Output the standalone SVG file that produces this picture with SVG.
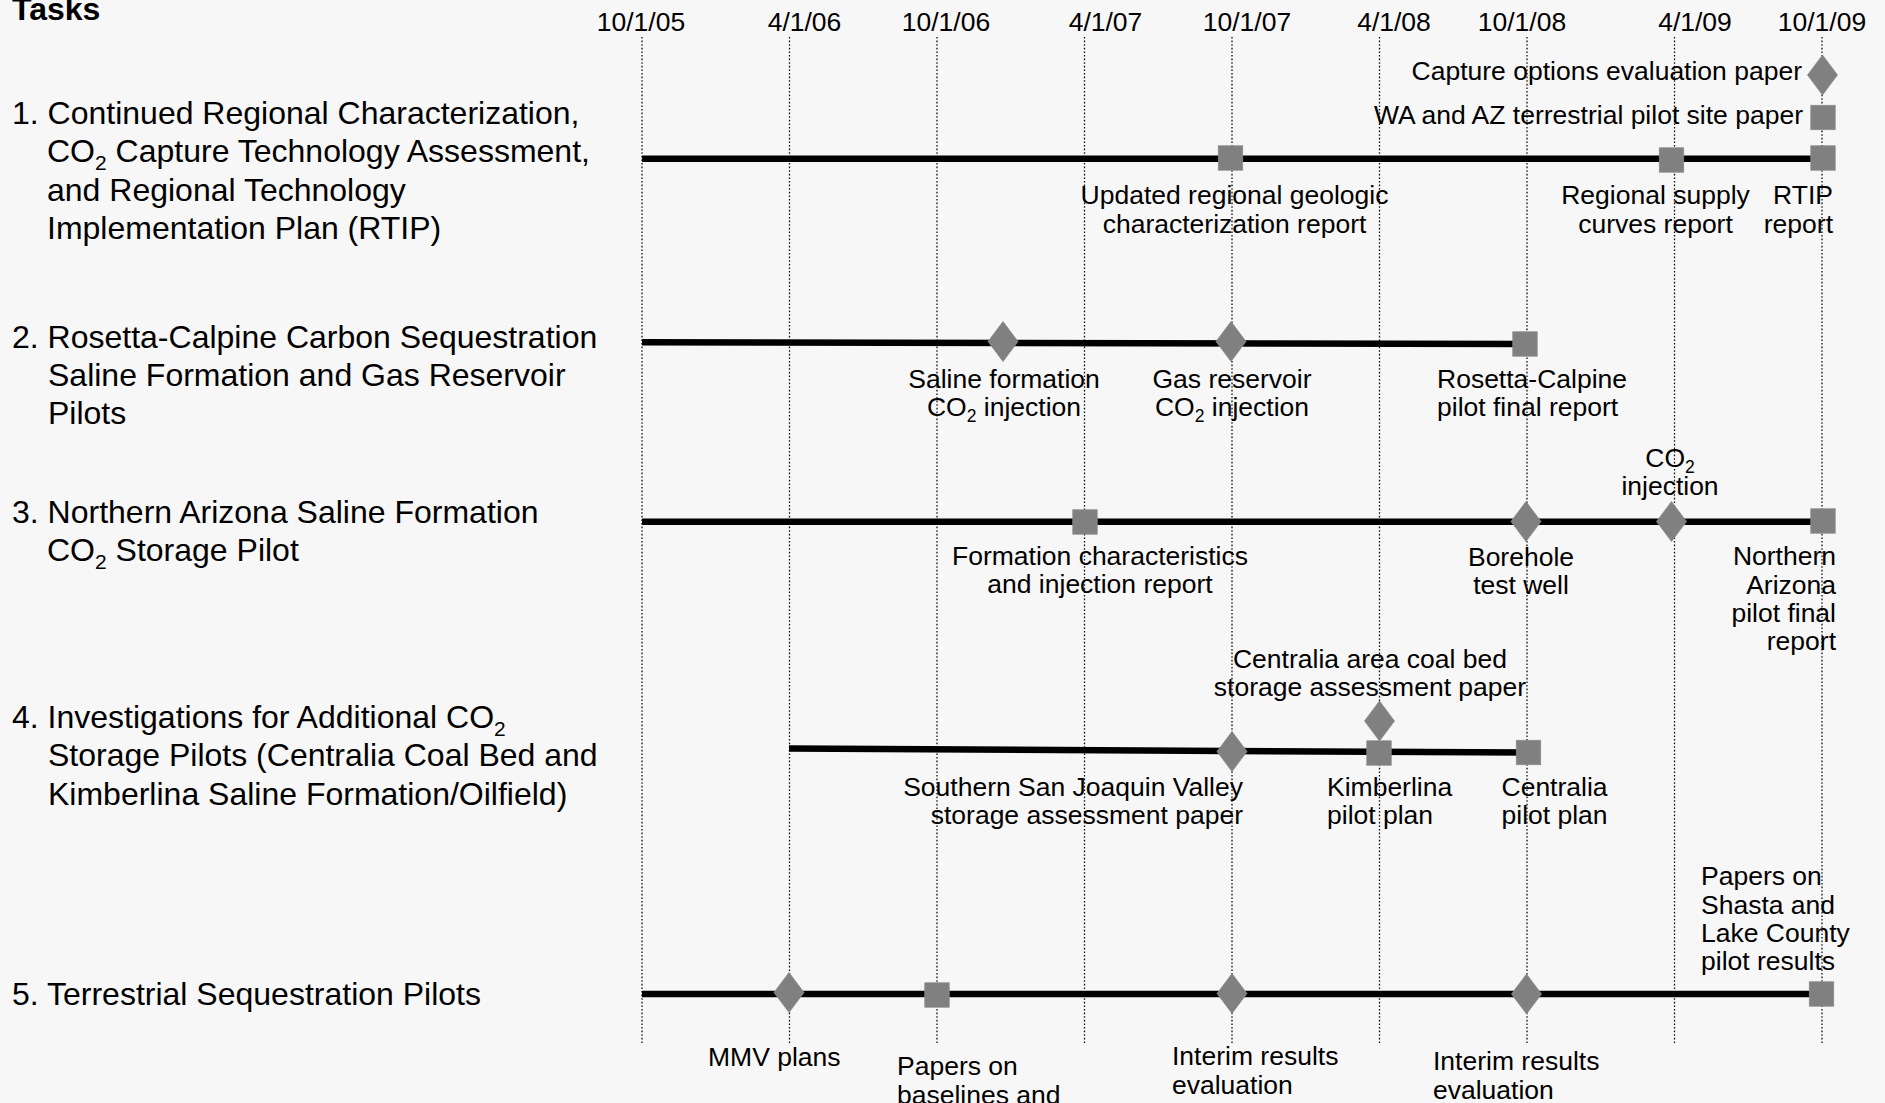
<svg xmlns="http://www.w3.org/2000/svg" xmlns:xlink="http://www.w3.org/1999/xlink" width="1885" height="1103" viewBox="0 0 1885 1103">
<style>
text{font-family:"Liberation Sans",Arial,sans-serif;fill:#000}
.task{font-size:32px}
.hdr{font-size:32px;font-weight:bold}
.date{font-size:26.5px;text-anchor:middle}
.lbl{font-size:26.5px}
.mid{text-anchor:middle}
.end{text-anchor:end}
.grid line{stroke:#111;stroke-width:1.3;stroke-dasharray:1.6 2}
.bar{stroke:#000;stroke-width:6.5;fill:none}
.mk{fill:#808080;stroke:#8c8c8c;stroke-width:0.8}
</style>
<defs>
<rect id="sq" x="-12.2" y="-12.2" width="24.4" height="24.4"/>
<path id="dm" d="M0,-20 L15,0 L0,20 L-15,0Z"/>
</defs>
<rect x="0" y="0" width="1885" height="1103" fill="#f7f7f7"/>

<g id="header">
<text class="hdr" x="12" y="20">Tasks</text>
<text class="date" x="641" y="31">10/1/05</text>
<text class="date" x="804.5" y="31">4/1/06</text>
<text class="date" x="946" y="31">10/1/06</text>
<text class="date" x="1105.5" y="31">4/1/07</text>
<text class="date" x="1247" y="31">10/1/07</text>
<text class="date" x="1394" y="31">4/1/08</text>
<text class="date" x="1522" y="31">10/1/08</text>
<text class="date" x="1695" y="31">4/1/09</text>
<text class="date" x="1822" y="31">10/1/09</text>
</g>

<g id="grid" class="grid">
<line x1="642" y1="37" x2="642" y2="1043"/>
<line x1="789.5" y1="37" x2="789.5" y2="1043"/>
<line x1="937" y1="37" x2="937" y2="1043"/>
<line x1="1084.5" y1="37" x2="1084.5" y2="1043"/>
<line x1="1232" y1="37" x2="1232" y2="1043"/>
<line x1="1379.5" y1="37" x2="1379.5" y2="1043"/>
<line x1="1527" y1="37" x2="1527" y2="1043"/>
<line x1="1674.5" y1="37" x2="1674.5" y2="1043"/>
<line x1="1822" y1="37" x2="1822" y2="1043"/>
</g>

<g id="task-labels">
<g id="task1-label">
<text class="task" x="12" y="124">1. Continued Regional Characterization,</text>
<text class="task" x="47" y="162.3">CO<tspan font-size="21" dy="7.5">2</tspan><tspan dy="-7.5"> Capture Technology Assessment,</tspan></text>
<text class="task" x="47" y="200.6">and Regional Technology</text>
<text class="task" x="47" y="239">Implementation Plan (RTIP)</text>
</g>
<g id="task2-label">
<text class="task" x="12" y="347.5">2. Rosetta-Calpine Carbon Sequestration</text>
<text class="task" x="48" y="385.8">Saline Formation and Gas Reservoir</text>
<text class="task" x="48" y="424">Pilots</text>
</g>
<g id="task3-label">
<text class="task" x="12" y="523">3. Northern Arizona Saline Formation</text>
<text class="task" x="47" y="561.3">CO<tspan font-size="21" dy="7.5">2</tspan><tspan dy="-7.5"> Storage Pilot</tspan></text>
</g>
<g id="task4-label">
<text class="task" x="12" y="728">4. Investigations for Additional CO<tspan font-size="21" dy="7.5">2</tspan></text>
<text class="task" x="48" y="766.3">Storage Pilots (Centralia Coal Bed and</text>
<text class="task" x="48" y="804.6">Kimberlina Saline Formation/Oilfield)</text>
</g>
<g id="task5-label">
<text class="task" x="12" y="1005">5. Terrestrial Sequestration Pilots</text>
</g>
</g>

<g id="connectors">
<line class="bar" x1="642" y1="158.8" x2="1822" y2="158.8"/>
<line class="bar" x1="642" y1="342.3" x2="1525" y2="344"/>
<line class="bar" x1="642" y1="521.7" x2="1822" y2="521.7"/>
<line class="bar" x1="789" y1="748.5" x2="1528" y2="752.6"/>
<line class="bar" x1="642" y1="994" x2="1822" y2="994"/>
</g>

<g id="task1-milestones">
<g id="m1-capture"><use href="#dm" class="mk" x="1822.5" y="75"/><text class="lbl end" x="1802" y="80">Capture options evaluation paper</text></g>
<g id="m1-waaz"><use href="#sq" class="mk" x="1823" y="117.5"/><text class="lbl end" x="1803" y="124">WA and AZ terrestrial pilot site paper</text></g>
<g id="m1-geologic"><use href="#sq" class="mk" x="1230.5" y="158"/><text class="lbl mid" x="1234.5" y="204">Updated regional geologic</text><text class="lbl mid" x="1234.5" y="232.5">characterization report</text></g>
<g id="m1-supply"><use href="#sq" class="mk" x="1671.5" y="160"/><text class="lbl mid" x="1655.5" y="204">Regional supply</text><text class="lbl mid" x="1655.5" y="232.5">curves report</text></g>
<g id="m1-rtip"><use href="#sq" class="mk" x="1823" y="158"/><text class="lbl end" x="1833" y="204">RTIP</text><text class="lbl end" x="1833" y="232.5">report</text></g>
</g>

<g id="task2-milestones">
<g id="m2-saline"><use href="#dm" class="mk" x="1003" y="341.5"/><text class="lbl mid" x="1004" y="387.5">Saline formation</text><text class="lbl mid" x="1004" y="415.5">CO<tspan font-size="17.5" dy="6">2</tspan><tspan dy="-6"> injection</tspan></text></g>
<g id="m2-gas"><use href="#dm" class="mk" x="1231" y="341.5"/><text class="lbl mid" x="1232" y="387.5">Gas reservoir</text><text class="lbl mid" x="1232" y="415.5">CO<tspan font-size="17.5" dy="6">2</tspan><tspan dy="-6"> injection</tspan></text></g>
<g id="m2-rosetta"><use href="#sq" class="mk" x="1525" y="344"/><text class="lbl" x="1437" y="387.5">Rosetta-Calpine</text><text class="lbl" x="1437" y="415.5">pilot final report</text></g>
</g>

<g id="task3-milestones">
<g id="m3-formation"><use href="#sq" class="mk" x="1085" y="522"/><text class="lbl mid" x="1100" y="565">Formation characteristics</text><text class="lbl mid" x="1100" y="593">and injection report</text></g>
<g id="m3-borehole"><use href="#dm" class="mk" x="1526" y="521.5"/><text class="lbl mid" x="1521" y="565.5">Borehole</text><text class="lbl mid" x="1521" y="593.5">test well</text></g>
<g id="m3-injection"><use href="#dm" class="mk" x="1671.5" y="521.5"/><text class="lbl mid" x="1670" y="467">CO<tspan font-size="17.5" dy="6">2</tspan></text><text class="lbl mid" x="1670" y="495">injection</text></g>
<g id="m3-final"><use href="#sq" class="mk" x="1823" y="521"/><text class="lbl end" x="1836" y="565">Northern</text><text class="lbl end" x="1836" y="593.5">Arizona</text><text class="lbl end" x="1836" y="622">pilot final</text><text class="lbl end" x="1836" y="650">report</text></g>
</g>

<g id="task4-milestones">
<g id="m4-sanjoaquin"><use href="#dm" class="mk" x="1232" y="751.5"/><text class="lbl end" x="1243" y="795.5">Southern San Joaquin Valley</text><text class="lbl end" x="1243" y="824">storage assessment paper</text></g>
<g id="m4-centralia-paper"><use href="#dm" class="mk" x="1379.5" y="721"/><text class="lbl mid" x="1370" y="668">Centralia area coal bed</text><text class="lbl mid" x="1370" y="696">storage assessment paper</text></g>
<g id="m4-kimberlina"><use href="#sq" class="mk" x="1379" y="753"/><text class="lbl" x="1327" y="795.5">Kimberlina</text><text class="lbl" x="1327" y="824">pilot plan</text></g>
<g id="m4-centralia-plan"><use href="#sq" class="mk" x="1528.5" y="752.5"/><text class="lbl" x="1501.5" y="795.5">Centralia</text><text class="lbl" x="1501.5" y="824">pilot plan</text></g>
</g>

<g id="task5-milestones">
<g id="m5-mmv"><use href="#dm" class="mk" x="789" y="992.5"/><text class="lbl" x="708" y="1066">MMV plans</text></g>
<g id="m5-baselines"><use href="#sq" class="mk" x="937" y="995"/><text class="lbl" x="897" y="1075">Papers on</text><text class="lbl" x="897" y="1103.5">baselines and</text></g>
<g id="m5-interim1"><use href="#dm" class="mk" x="1232" y="993.5"/><text class="lbl" x="1172" y="1065">Interim results</text><text class="lbl" x="1172" y="1093.5">evaluation</text></g>
<g id="m5-interim2"><use href="#dm" class="mk" x="1526.5" y="994"/><text class="lbl" x="1433" y="1070">Interim results</text><text class="lbl" x="1433" y="1098.5">evaluation</text></g>
<g id="m5-shasta"><use href="#sq" class="mk" x="1821.5" y="994"/><text class="lbl" x="1701" y="885">Papers on</text><text class="lbl" x="1701" y="913.5">Shasta and</text><text class="lbl" x="1701" y="942">Lake County</text><text class="lbl" x="1701" y="970">pilot results</text></g>
</g>
</svg>
